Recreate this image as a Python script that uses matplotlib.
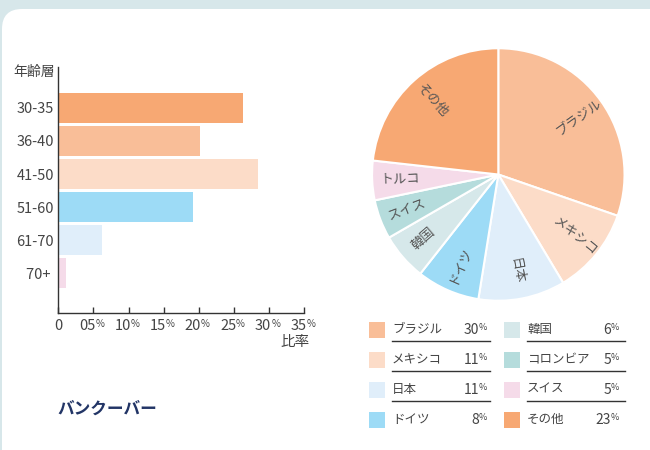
import matplotlib
matplotlib.use("Agg")
import matplotlib.pyplot as plt
import numpy as np
from matplotlib.patches import FancyBboxPatch, Rectangle

plt.rcParams['font.family'] = ['Noto Sans CJK JP', 'DejaVu Sans']

# bar chart data
age_groups = ['30-35', '36-40', '41-50', '51-60', '61-70', '70+ ']
age_share = [26.3, 20.2, 28.4, 19.1, 6.2, 1.1]
age_colors = ['#f7a873', '#f9be98', '#fcdcc8', '#9ddbf6', '#e0eefa', '#f5dbe9']
x_ticks = [0, 5, 10, 15, 20, 25, 30, 35]
x_tick_labels = ['0', '05', '10', '15', '20', '25', '30', '35']

# pie data
pie_labels = ['ブラジル', 'メキシコ', '日本', 'ドイツ', '韓国', 'スイス', 'トルコ', 'その他']
pie_values = [30, 11, 11, 8, 6, 5, 5, 23]
pie_colors = ['#f9be98', '#fcdcc8', '#e0eefa', '#9ddbf6', '#d6e8ea', '#b5dcdc', '#f5dbe9', '#f7a873']

# legend table
legend_names = ['ブラジル', 'メキシコ', '日本', 'ドイツ', '韓国', 'コロンビア', 'スイス', 'その他']
legend_values = ['30', '11', '11', '8', '6', '5', '5', '23']
legend_colors = ['#f9be98', '#fcdcc8', '#e0eefa', '#9ddbf6', '#d6e8ea', '#b5dcdc', '#f5dbe9', '#f7a873']

title = 'バンクーバー'
text_col = '#444444'

fig = plt.figure(figsize=(6.5, 4.5), dpi=100)
fig.patch.set_facecolor('#d7e7ea')

# background card (pixel coordinates)
bg = fig.add_axes([0, 0, 1, 1], zorder=0)
bg.set_xlim(0, 650)
bg.set_ylim(450, 0)
bg.axis('off')
bg.add_patch(FancyBboxPatch((2, 9), 680, 480, boxstyle='round,pad=0,rounding_size=20',
                            fc='white', ec='none'))

# ---- horizontal bar chart
ax = fig.add_axes([58.3 / 650, (450 - 313) / 450, 246 / 650, (313 - 66.7) / 450], zorder=1)
ax.patch.set_alpha(0)
y = np.arange(len(age_groups))
ax.barh(y, age_share, height=0.9, color=age_colors)
ax.set_ylim(6.21, -1.25)
ax.set_xlim(0, 35)
ax.set_yticks(y)
ax.set_yticklabels(age_groups, fontsize=10.5, color=text_col)
ax.tick_params(axis='y', length=0, pad=3)
ax.set_xticks(x_ticks)
ax.set_xticklabels([])
ax.tick_params(axis='x', direction='in', length=4.5, color='#333333', width=1)
for s in ['top', 'right']:
    ax.spines[s].set_visible(False)
for s in ['left', 'bottom']:
    ax.spines[s].set_color('#333333')
    ax.spines[s].set_linewidth(1)

# tick labels with small percent sign
for t, lab in zip(x_ticks, x_tick_labels):
    if lab == '0':
        ax.annotate(lab, xy=(t, 0), xycoords=('data', 'axes fraction'), xytext=(0, -4),
                    textcoords='offset points', ha='center', va='top', fontsize=10.5, color=text_col)
    else:
        ax.annotate(lab, xy=(t, 0), xycoords=('data', 'axes fraction'), xytext=(1.5, -4),
                    textcoords='offset points', ha='right', va='top', fontsize=10.5, color=text_col)
        ax.annotate('%', xy=(t, 0), xycoords=('data', 'axes fraction'), xytext=(1.5, -4.5),
                    textcoords='offset points', ha='left', va='top', fontsize=7, color=text_col)

fig.text(55 / 650, 1 - 72 / 450, '年齢層', ha='right', va='center', fontsize=10, color=text_col)
fig.text(310 / 650, 1 - 342 / 450, '比率', ha='right', va='center', fontsize=10.5, color=text_col)

# ---- pie chart
pax = fig.add_axes([(498.3 - 127.5) / 650, (450 - 302) / 450, 255 / 650, 255 / 450], zorder=1)
wedges, _ = pax.pie(pie_values, colors=pie_colors, startangle=90, counterclock=False,
                    wedgeprops=dict(edgecolor='white', linewidth=1.5))
pax.set_xlim(-1.01, 1.01)
pax.set_ylim(-1.01, 1.01)
for w, lab in zip(wedges, pie_labels):
    mid = (w.theta1 + w.theta2) / 2
    r = 0.78
    xx, yy = r * np.cos(np.radians(mid)), r * np.sin(np.radians(mid))
    rot = (mid + 180) % 360 - 180
    if rot > 90:
        rot -= 180
    elif rot < -90:
        rot += 180
    pax.text(xx, yy, lab, rotation=rot, rotation_mode='anchor', ha='center', va='center',
             fontsize=9.5, color='#555555')

# ---- legend table
for i, (name, val, col) in enumerate(zip(legend_names, legend_values, legend_colors)):
    c, r = divmod(i, 4)
    x0 = 369 + 135 * c
    yc = 329.5 + 30 * r
    bg.add_patch(Rectangle((x0, yc - 8), 16, 16, fc=col, ec='none'))
    bg.text(x0 + 23, yc, name, ha='left', va='center', fontsize=9, color=text_col)
    vx = 479 + 132 * c
    bg.text(vx, yc, val, ha='right', va='center', fontsize=10, color=text_col)
    bg.text(vx, yc - 7, '%', ha='left', va='top', fontsize=6.5, color=text_col)
    if r < 3:
        bg.plot([x0 + 23, x0 + 121], [yc + 11.5, yc + 11.5], color='#333333', lw=1)

bg.text(57, 409, title, ha='left', va='center', fontsize=12, fontweight='bold', color='#223566')

fig.savefig('out.png', dpi=100)
